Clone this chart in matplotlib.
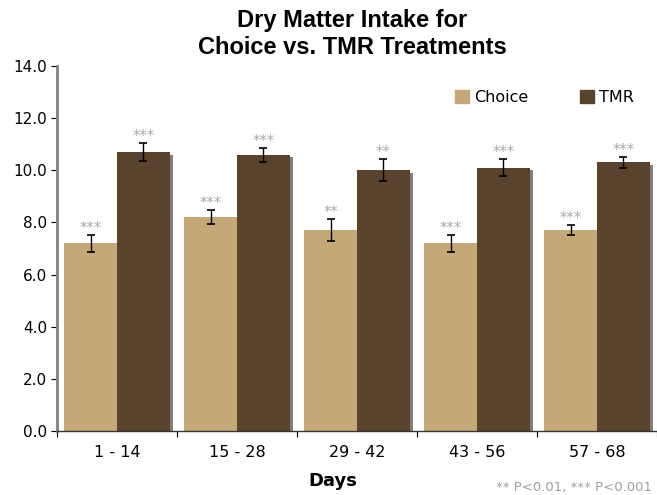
import numpy as np
import matplotlib.pyplot as plt
from matplotlib.patches import Patch

periods = ['1 - 14', '15 - 28', '29 - 42', '43 - 56', '57 - 68']
choice = [7.2, 8.2, 7.7, 7.2, 7.7]
tmr = [10.7, 10.6, 10.0, 10.1, 10.3]
choice_err = [0.32, 0.27, 0.42, 0.32, 0.2]
tmr_err = [0.33, 0.27, 0.42, 0.32, 0.2]
choice_sig = ['***', '***', '**', '***', '***']
tmr_sig = ['***', '***', '**', '***', '***']

c_choice = '#c4a878'
c_tmr = '#5a432c'

fig = plt.figure(figsize=(6.57, 4.95), dpi=100)
ax = fig.add_axes([57 / 657, 64 / 495, 600 / 657, 365 / 495])

x = np.arange(len(periods))
w = 0.44
off = 0.22
dx = 3 / 120  # shadow offset

for xs, vals, col in [(x - off, choice, c_choice), (x + off, tmr, c_tmr)]:
    ax.bar(xs + dx, np.array(vals) - 0.1, width=w, color='#808080', zorder=1)
    ax.bar(xs, vals, width=w, color=col, zorder=2)

for xs, vals, errs, sig in [(x - off, choice, choice_err, choice_sig),
                            (x + off, tmr, tmr_err, tmr_sig)]:
    ax.errorbar(xs, vals, yerr=errs, fmt='none', ecolor='black',
                elinewidth=1, capsize=2.7, capthick=1.2, zorder=3)
    for xi, v, e, s in zip(xs, vals, errs, sig):
        ax.text(xi, v + e + 0.08, s, ha='center', va='baseline',
                color='#a8a8a8', fontsize=10.5)

ax.set_xlim(-0.5, 4.5)
ax.set_ylim(0, 14)
yt = np.arange(0, 14.1, 2)
ax.set_yticks(yt)
ax.set_yticklabels(['%.1f' % v for v in yt], fontsize=11)
ax.set_xticks(np.arange(-0.5, 4.6, 1))
ax.set_xticklabels([])
ax.set_xticks(x, minor=True)
ax.set_xticklabels(periods, minor=True, fontsize=11.5)
ax.tick_params(axis='x', which='minor', length=0, pad=10)
ax.tick_params(axis='x', which='major', length=4, color='black', direction='out')
ax.tick_params(axis='y', length=4, color='black', direction='out', pad=3)

for sp in ['top', 'right']:
    ax.spines[sp].set_visible(False)
ax.spines['left'].set_color('#808080')
ax.spines['left'].set_linewidth(2)
ax.spines['bottom'].set_color('#333333')
ax.spines['bottom'].set_linewidth(1)

handles = [Patch(color=c_choice, label='Choice'), Patch(color=c_tmr, label='TMR')]
ax.legend(handles=handles, loc='upper left', bbox_to_anchor=(398 / 600, 0.934), ncol=2,
          frameon=False, fontsize=11.5, handlelength=0.9, handleheight=0.9,
          handletextpad=0.3, columnspacing=3.2, borderpad=0, borderaxespad=0)

title_font = dict(ha='center', va='center', fontsize=17, fontweight='bold',
                  family='Liberation Sans', fontstretch='normal')
fig.text(352 / 657, 1 - 21 / 495, 'Dry Matter Intake for', **title_font)
fig.text(352 / 657, 1 - 47 / 495, 'Choice vs. TMR Treatments', **title_font)
fig.text(333 / 657, 1 - 481 / 495, 'Days', ha='center', va='center',
         fontsize=13, fontweight='bold')
fig.text(652 / 657, 1 - 487 / 495, '** P<0.01, *** P<0.001', ha='right', va='center',
         fontsize=9.5, color='#a0a0a0')

fig.savefig('out.png', dpi=100)
